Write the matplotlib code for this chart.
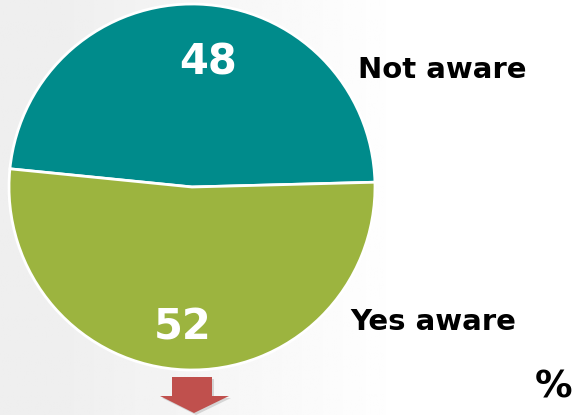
import numpy as np
import matplotlib.pyplot as plt
from matplotlib.patches import Polygon

labels = ["Not aware", "Yes aware"]
values = [48, 52]
colors = ["#008b8b", "#9cb43f"]

fig = plt.figure(figsize=(5.8, 4.15), dpi=100)

# soft grey-to-white backdrop
bg = fig.add_axes([0, 0, 1, 1])
grad = np.linspace(0, 1, 256)
shade = 0.935 + 0.065 * np.clip((grad - 0.1) / 0.6, 0, 1)
bg.imshow(np.tile(shade, (10, 1)), cmap="gray", vmin=0, vmax=1,
          aspect="auto", extent=[0, 1, 0, 1])
bg.set_xlim(0, 1)
bg.set_ylim(0, 1)
bg.axis("off")

W, H = 580, 415
cx, cy, r = 192, 187, 183
ax = fig.add_axes([(cx - r) / W, (H - cy - r) / H, 2 * r / W, 2 * r / H])
wedges, _ = ax.pie(values, colors=colors, startangle=1.5, counterclock=True,
                   wedgeprops=dict(edgecolor="white", linewidth=2))
ax.set_xlim(-1.0, 1.0)
ax.set_ylim(-1.0, 1.0)
ax.set_aspect("equal")

# values inside the slices
ax.text(0.09, 0.68, str(values[0]), color="white", fontsize=30,
        fontweight="bold", ha="center", va="center")
ax.text(-0.05, -0.77, str(values[1]), color="white", fontsize=30,
        fontweight="bold", ha="center", va="center")

# slice names to the right
fig.text(442 / W, 1 - 70 / H, labels[0], fontsize=21, fontweight="bold",
         ha="center", va="center")
fig.text(433 / W, 1 - 322 / H, labels[1], fontsize=21, fontweight="bold",
         ha="center", va="center")
fig.text(554 / W, 1 - 387 / H, "%", fontsize=27, fontweight="bold",
         ha="center", va="center")

# red down arrow under the pie
pts = [(172, 377), (212, 377), (212, 396), (229, 396), (194, 413),
       (160, 396), (172, 396)]
shadow = [(x + 2, y + 2) for x, y in pts]
for poly, col, a in [(shadow, "#999999", 0.35), (pts, "#c0504d", 1.0)]:
    fig.patches.append(Polygon([(x / W, 1 - y / H) for x, y in poly],
                               closed=True, transform=fig.transFigure,
                               facecolor=col, edgecolor="none", alpha=a))

fig.savefig("out.png", dpi=100)
